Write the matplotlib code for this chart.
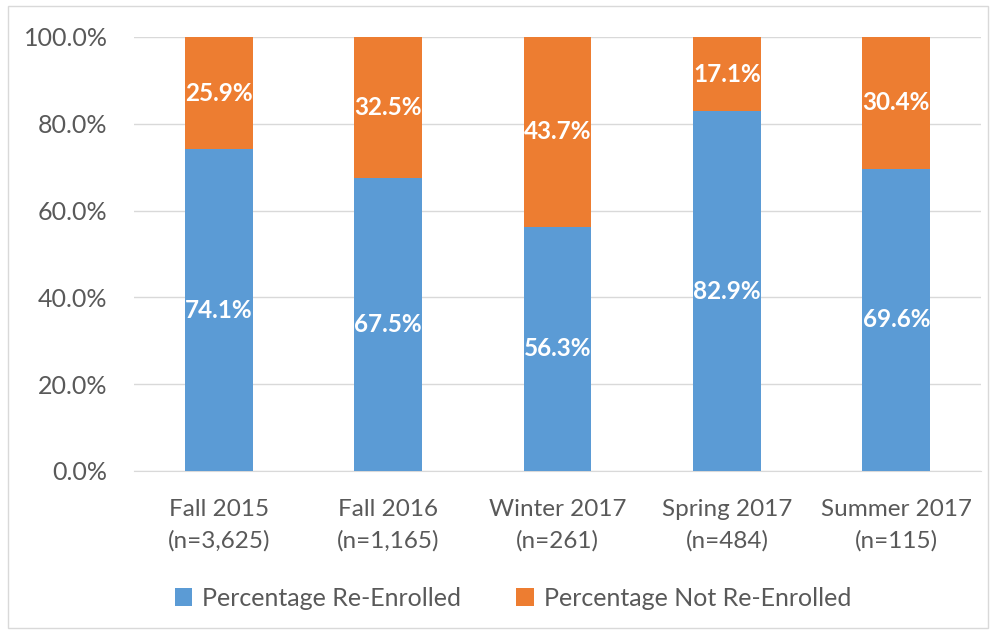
import matplotlib
matplotlib.use("Agg")
import matplotlib.pyplot as plt
from matplotlib.patches import Rectangle
from matplotlib.ticker import FuncFormatter, MultipleLocator

categories = ["Fall 2015\n(n=3,625)", "Fall 2016\n(n=1,165)", "Winter 2017\n(n=261)",
              "Spring 2017\n(n=484)", "Summer 2017\n(n=115)"]
re_enrolled = [74.1, 67.5, 56.3, 82.9, 69.6]
not_re_enrolled = [25.9, 32.5, 43.7, 17.1, 30.4]
series_names = ["Percentage Re-Enrolled", "Percentage Not Re-Enrolled"]

blue = "#5B9BD5"
orange = "#ED7D31"
txt = "#595959"

plt.rcParams['font.family'] = ['Lato', 'DejaVu Sans']

fig = plt.figure(figsize=(9.95, 6.35), dpi=100)
ax = fig.add_axes([134/995, 1-471/635, 847/995, (471-37)/635])

x = list(range(len(categories)))
w = 0.4
b1 = ax.bar(x, re_enrolled, width=w, color=blue, label=series_names[0], zorder=3)
b2 = ax.bar(x, not_re_enrolled, width=w, bottom=re_enrolled, color=orange,
            label=series_names[1], zorder=3)

for i in x:
    ax.text(i, re_enrolled[i]/2, f"{re_enrolled[i]:.1f}%", ha='center', va='center',
            color='white', fontweight='bold', fontsize=17.5, zorder=4)
    ax.text(i, re_enrolled[i] + not_re_enrolled[i]/2, f"{not_re_enrolled[i]:.1f}%",
            ha='center', va='center', color='white', fontweight='bold', fontsize=17.5, zorder=4)

ax.set_xlim(-0.5, len(categories)-0.5)
ax.set_ylim(0, 100)
ax.yaxis.set_major_locator(MultipleLocator(20))
ax.yaxis.set_major_formatter(FuncFormatter(lambda v, p: f"{v:.1f}%"))
ax.grid(axis='y', color='#D9D9D9', linewidth=1, zorder=0)
ax.set_xticks(x)
ax.set_xticklabels(categories, fontsize=17.5, color=txt, linespacing=1.6)
ax.tick_params(axis='y', labelsize=18, labelcolor=txt, length=0, pad=19)
ax.tick_params(axis='x', length=0, pad=20)
for s in ['top', 'right', 'left']:
    ax.spines[s].set_visible(False)
ax.spines['bottom'].set_color('#D9D9D9')

leg = fig.legend(handles=[b1, b2], labels=series_names, loc='center',
                 bbox_to_anchor=(513/995, 1-598/635), ncol=2, frameon=False,
                 fontsize=18, handlelength=0.7, handleheight=0.7, columnspacing=2.2,
                 handletextpad=0.4)
for t in leg.get_texts():
    t.set_color(txt)

fig.patches.append(Rectangle((8/995, 1-628/635), 980/995, 622/635, transform=fig.transFigure,
                             fill=False, edgecolor='#D9D9D9', linewidth=1))

fig.savefig("out.png", dpi=100)
